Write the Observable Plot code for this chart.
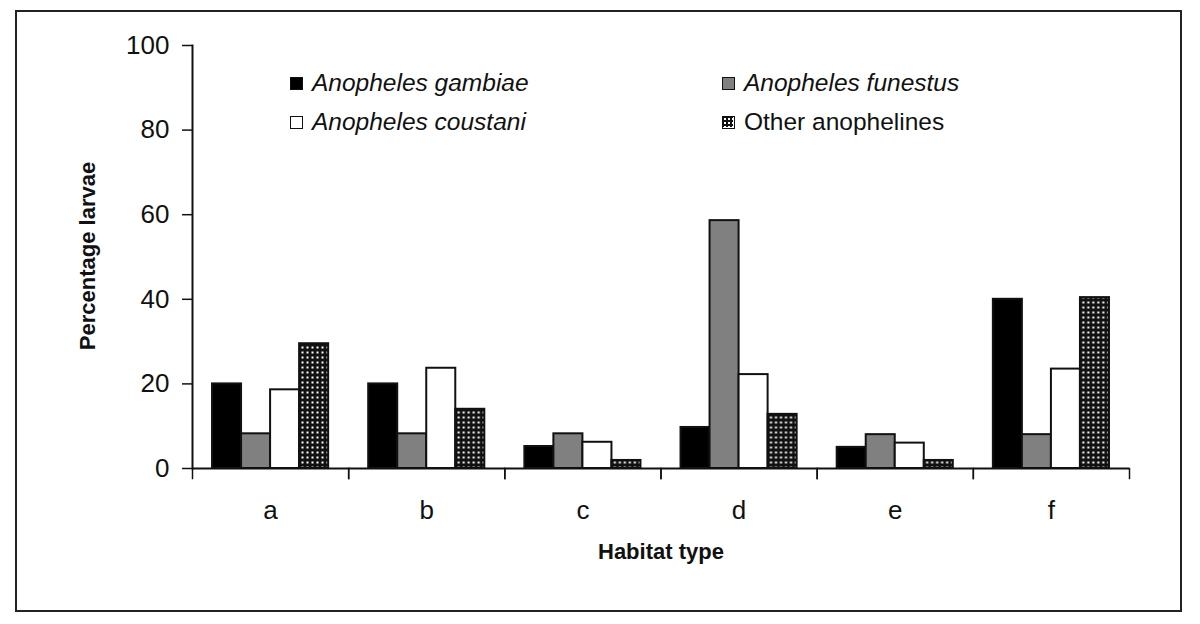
<!DOCTYPE html>
<html>
<head>
<meta charset="utf-8">
<script src="https://cdn.jsdelivr.net/npm/d3@7"></script>
<script src="https://cdn.jsdelivr.net/npm/@observablehq/plot@0.6"></script>
<style>
  html, body { margin: 0; padding: 0; background: #fff; }
  body { width: 1200px; height: 624px; position: relative; overflow: hidden; font-family: "Liberation Sans", Arial, sans-serif; color: #111; }
  #border { position: absolute; left: 15px; top: 10px; width: 1167px; height: 602px; border: 2px solid #222; box-sizing: border-box; }
  #chart { position: absolute; left: 0; top: 0; }
  .legend-item { position: absolute; display: flex; align-items: center; height: 28px; font-size: 24.5px; white-space: nowrap; }
  .legend-item .sw { width: 13px; height: 13px; border: 1.5px solid #111; box-sizing: border-box; margin-right: 9px; }
  .legend-item.it span { font-style: italic; }
  .axis-title { position: absolute; font-weight: bold; font-size: 22px; white-space: nowrap; }
</style>
</head>
<body>
<svg width="0" height="0" style="position:absolute">
  <defs>
    <pattern id="dots" width="5" height="5" patternUnits="userSpaceOnUse">
      <rect width="5" height="5" fill="#111"></rect>
      <rect x="1.5" y="1.5" width="2" height="2" fill="#fff"></rect>
    </pattern>
    <pattern id="dots-sm" width="4" height="4" patternUnits="userSpaceOnUse">
      <rect width="4" height="4" fill="#111"></rect>
      <rect x="1" y="1" width="2" height="2" fill="#fff"></rect>
    </pattern>
  </defs>
</svg>
<div id="border"></div>
<div id="chart"></div>
<div id="legend"></div>
<div class="axis-title" id="xtitle">Habitat type</div>
<div class="axis-title" id="ytitle">Percentage larvae</div>
<script>
// ---- data ----
const groups = ["a", "b", "c", "d", "e", "f"];
const series = ["Anopheles gambiae", "Anopheles funestus", "Anopheles coustani", "Other anophelines"];
const gambiae  = [20, 20, 5.2, 9.7, 5.0, 40];
const funestus = [8.2, 8.2, 8.2, 58.6, 8.0, 8.0];
const coustani = [18.6, 23.7, 6.2, 22.2, 6.0, 23.5];
const other    = [29.5, 14, 1.9, 12.8, 1.9, 40.4];
const yTicks = [0, 20, 40, 60, 80, 100];
const fills = ["#000000", "#808080", "#ffffff", "url(#dots)"];
const italicSeries = [true, true, true, false];

const valuesBySeries = [gambiae, funestus, coustani, other];
const rows = [];
groups.forEach((g, i) => series.forEach((s, j) => rows.push({group: g, series: s, value: valuesBySeries[j][i]})));

const H = 624, mT = 45, mB = 156;
const chart = Plot.plot({
  width: 1200,
  height: H,
  marginLeft: 192,
  marginRight: 71,
  marginTop: mT,
  marginBottom: mB,
  style: {fontFamily: "'Liberation Sans', Arial, sans-serif", background: "transparent", color: "#111", overflow: "visible"},
  fx: {domain: groups, padding: 0, round: false, label: null, axis: null},
  x: {domain: series, paddingInner: 0, paddingOuter: 0.69, round: false, axis: null},
  y: {domain: [0, 100], label: null},
  color: {domain: series, range: fills},
  marks: [
    Plot.barY(rows, {fx: "group", x: "series", y: "value", fill: "series", stroke: "#111", strokeWidth: 2}),
    Plot.ruleY([0], {stroke: "#111", strokeWidth: 2}),
    Plot.frame({anchor: "left", insetTop: H - mT - mB, insetBottom: -10, stroke: "#111", strokeWidth: 1.5}),
    Plot.frame({anchor: "right", insetTop: H - mT - mB, insetBottom: -10, stroke: "#111", strokeWidth: 1.5}),
    Plot.frame({anchor: "left", fx: [groups[0]], stroke: "#111", strokeWidth: 2}),
    Plot.axisY({ticks: yTicks, tickSize: 10, tickPadding: 13, fontSize: 26, label: null, stroke: "#111", strokeWidth: 1.5}),
    Plot.axisFx({anchor: "bottom", tickSize: 0, tickPadding: 32, fontSize: 26, label: null})
  ]
});
document.getElementById("chart").appendChild(chart);

// ---- legend ----
const legendPos = [[290, 69], [722, 69], [290, 108], [722, 108]];
const legend = document.getElementById("legend");
series.forEach((s, j) => {
  const item = document.createElement("div");
  item.className = "legend-item" + (italicSeries[j] ? " it" : "");
  item.style.left = legendPos[j][0] + "px";
  item.style.top = legendPos[j][1] + "px";
  const sw = document.createElement("div");
  sw.className = "sw";
  if (j === 3) {
    sw.innerHTML = '<svg width="10" height="10" style="display:block"><rect width="10" height="10" fill="url(#dots-sm)"></rect></svg>';
  } else {
    sw.style.background = fills[j];
  }
  const label = document.createElement("span");
  label.textContent = s;
  item.appendChild(sw);
  item.appendChild(label);
  legend.appendChild(item);
});

// ---- axis titles ----
const xt = document.getElementById("xtitle");
xt.style.left = (661 - xt.offsetWidth / 2) + "px";
xt.style.top = (552 - xt.offsetHeight / 2) + "px";
const yt = document.getElementById("ytitle");
yt.style.left = (88 - yt.offsetWidth / 2) + "px";
yt.style.top = (256 - yt.offsetHeight / 2) + "px";
yt.style.transform = "rotate(-90deg)";
</script>
</body>
</html>
